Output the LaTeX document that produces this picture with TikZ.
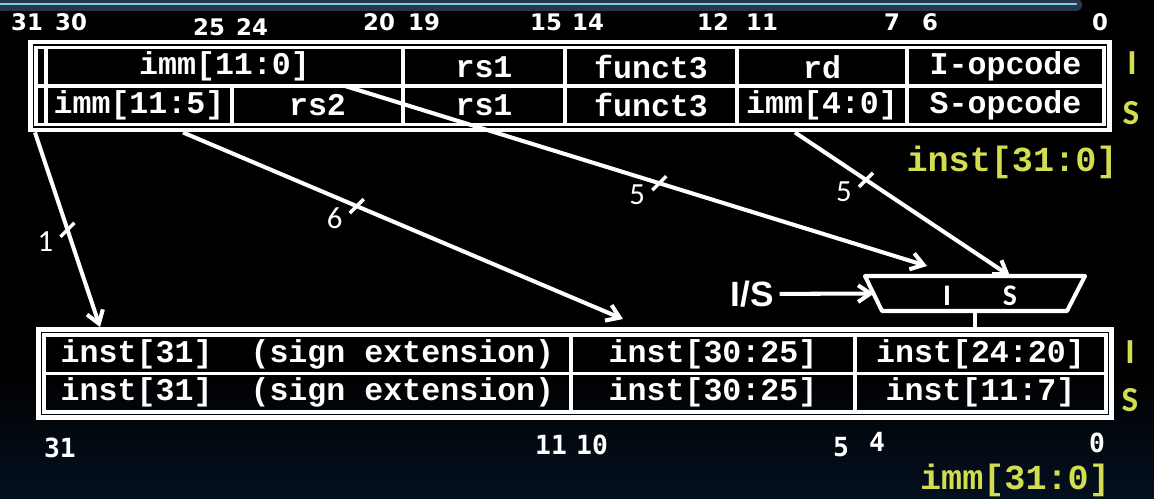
\documentclass[tikz,border=0pt]{standalone}
\usepackage{fontspec}
\usetikzlibrary{arrows.meta,calc,chains,fit,positioning,scopes}

\newfontfamily\codefam{Liberation Mono}
\newfontfamily\bitfam{DejaVu Sans}
\newfontfamily\bitmono{DejaVu Sans Mono}
\newfontfamily\calfam{Carlito}
\newfontfamily\arialfam{Liberation Sans}

\definecolor{slideyellow}{RGB}{210,222,80}
\definecolor{barcyan}{RGB}{120,212,236}
\definecolor{barglow}{RGB}{44,54,74}
\definecolor{deepnavy}{RGB}{4,16,32}

\tikzset{
    cell/.style = {
        draw = white,
        line width = 2pt,
        text = white,
        minimum height = 0.77cm,
        inner sep = 0pt,
        outer sep = 0pt,
        font = \codefam\bfseries\fontsize{18}{20}\selectfont,
        on chain,
        },
    frame/.style = {
        draw = white,
        line width = 2.8pt,
        inner sep = 0.11cm,
        },
    wire/.style = {
        draw = white,
        line width = 2.3pt,
        -{Straight Barb[length=7pt,width=9.5pt]},
        },
    tick/.style = {
        draw = white,
        line width = 2pt,
        },
    buswidth/.style = {
        text = white,
        inner sep = 0pt,
        font = \calfam\fontsize{17.5}{19}\selectfont,
        },
    bitnum/.style = {
        text = white,
        inner sep = 0pt,
        font = \bitfam\bfseries\fontsize{13}{15}\selectfont,
        },
    bitnum low/.style = {
        text = white,
        inner sep = 0pt,
        font = \bitmono\bfseries\fontsize{15}{17}\selectfont,
        },
    rowtag/.style = {
        text = slideyellow,
        inner sep = 0pt,
        font = \calfam\bfseries\fontsize{20}{22}\selectfont,
        },
    busname/.style = {
        text = slideyellow,
        inner sep = 0pt,
        font = \codefam\bfseries\fontsize{20}{22}\selectfont,
        },
}

\begin{document}
\begin{tikzpicture}
    [
        x = 0.2mm, y = -0.2mm,
        muxbody/.style = {minimum width=4.4cm, minimum height=0.7cm, inner sep=0pt, outer sep=0pt},
        muxline/.style = {draw=white, line width=2.3pt, line join=round},
        muxtag/.style = {text=white, inner sep=0pt, font=\calfam\bfseries\fontsize{17}{19}\selectfont},
    ]

    \useasboundingbox (0,0) rectangle (1154,498);
    \fill[black] (0,0) rectangle (1154,498);
    \shade[top color=black, bottom color=deepnavy] (0,370) rectangle (1154,498);

    % title bar
    \draw[barglow, line width=7pt, line cap=round] (-20,5) -- (1076,5);
    \draw[barcyan, line width=1.6pt, line cap=round] (-20,4) -- (1076,4);

    % instruction word, I and S formats
    { [start chain=irow going right, node distance=0pt]
    \node [cell, minimum width=0.2cm, anchor=north west, at={(36,47.5)}] (i31) {};
    \node [cell, minimum width=7.14cm] (iimm) {imm[11:0]};
    \node [cell, minimum width=3.24cm] (irs1) {rs1};
    \node [cell, minimum width=3.44cm] (ifun) {funct3};
    \node [cell, minimum width=3.4cm] (ird) {rd};
    \node [cell, minimum width=3.94cm] (iop) {I-opcode};
    }
    { [start chain=srow going right, node distance=0pt]
    \node [cell, minimum width=0.2cm, anchor=north west, at={(36,86)}] (s31) {};
    \node [cell, minimum width=3.72cm] (simmhi) {imm[11:5]};
    \node [cell, minimum width=3.42cm] (srs2) {rs2};
    \node [cell, minimum width=3.24cm] (srs1) {rs1};
    \node [cell, minimum width=3.44cm] (sfun) {funct3};
    \node [cell, minimum width=3.4cm] (simmlo) {imm[4:0]};
    \node [cell, minimum width=3.94cm] (sop) {S-opcode};
    }
    \node [frame, fit=(i31)(sop)] (tframe) {};

    % immediate, I and S formats
    { [start chain=irow going right, node distance=0pt]
    \node [cell, minimum width=10.54cm, anchor=north west, at={(44,335)}] (isign) {inst[31]\ \ (sign extension)};
    \node [cell, minimum width=5.68cm] (ihi) {inst[30:25]};
    \node [cell, minimum width=5.02cm] (ilo) {inst[24:20]};
    }
    { [start chain=srow going right, node distance=0pt]
    \node [cell, minimum width=10.54cm, anchor=north west, at={(44,373.5)}] (ssign) {inst[31]\ \ (sign extension)};
    \node [cell, minimum width=5.68cm] (shi) {inst[30:25]};
    \node [cell, minimum width=5.02cm] (slo) {inst[11:7]};
    }
    \node [frame, fit=(isign)(slo)] (bframe) {};

    % low bits selector
    \node [muxbody] (mux) at (975,293.5) {};
    \draw[muxline] (mux.north west) -- (mux.north east) -- ($(mux.south east)+(-18,0)$)
        -- ($(mux.south west)+(17,0)$) -- cycle;
    \coordinate (muxsel) at ($(mux.west)+(9,0)$);
    \node [muxtag] (muxi) at ($(mux.center)+(-28,2)$) {I};
    \node [muxtag] (muxs) at ($(mux.center)+(35,2)$) {S};
    \node [text=white, font=\arialfam\bfseries\fontsize{20}{22}\selectfont] (sel) at (752,294) {I/S};
    \draw[wire] (sel) -- (muxsel);
    \draw[line width=2.3pt, white] (mux.south) -- (mux.south |- bframe.north);

    % bit fields into the immediate
    \coordinate (sign) at (35,0 |- tframe.south);
    \coordinate (signext) at (100,0 |- bframe.north);
    \coordinate (hisrc) at (183,0 |- tframe.south);
    \coordinate (hidst) at ($(623,0 |- bframe.north)+(0,-8)$);
    \coordinate (isrc) at (345,0 |- iimm.south);
    \coordinate (ssrc) at (795,0 |- tframe.south);
    \coordinate (inI) at ($(mux.north)+(-48,-10)$);
    \coordinate (inS) at ($(mux.north)+(35,0)$);

    \draw[wire] (sign) -- coordinate[pos=0.5] (t1) (signext);
    \draw[wire] (hisrc) -- coordinate[pos=0.395] (t6) (hidst);
    \draw[wire] (isrc) -- coordinate[pos=0.54] (t5a) (inI);
    \draw[wire] (ssrc) -- coordinate[pos=0.33] (t5b) (inS);

    \foreach \t/\w in {t1/1, t6/6, t5a/5, t5b/5} {
        \draw[tick] ($(\t)+(-7,7)$) -- ($(\t)+(7,-7)$);
        \node[buswidth, anchor=east] (w\t) at ($(\t)+(-14,12)$) {\w};
    }

    % bit positions
    \foreach \b/\x in {31/27, 30/71, 20/379, 19/424, 15/546, 14/588, 12/713, 11/762, 7/892, 6/930, 0/1100}
        \node[bitnum] (top\b) at (\x,22) {\b};
    \node[bitnum] (top25) at (209,27) {25};
    \node[bitnum] (top24) at (252,27) {24};
    \foreach \b/\x/\y in {31/60/448, 11/551/445, 10/592/445, 5/841/447, 4/877/442, 0/1097/443}
        \node[bitnum low] (low\b) at (\x,\y) {\b};

    % format tags and bus names
    \node[rowtag] (tagi) at (1132,63) {I};
    \node[rowtag] (tags) at (1131,113) {S};
    \node[rowtag] (tagii) at (1130,352) {I};
    \node[rowtag] (tagss) at (1130,400) {S};
    \node[busname] (inst) at (1012,162) {inst[31:0]};
    \node[busname, anchor=base] (imm) at (1015,489) {imm[31:0]};
\end{tikzpicture}
\end{document}
